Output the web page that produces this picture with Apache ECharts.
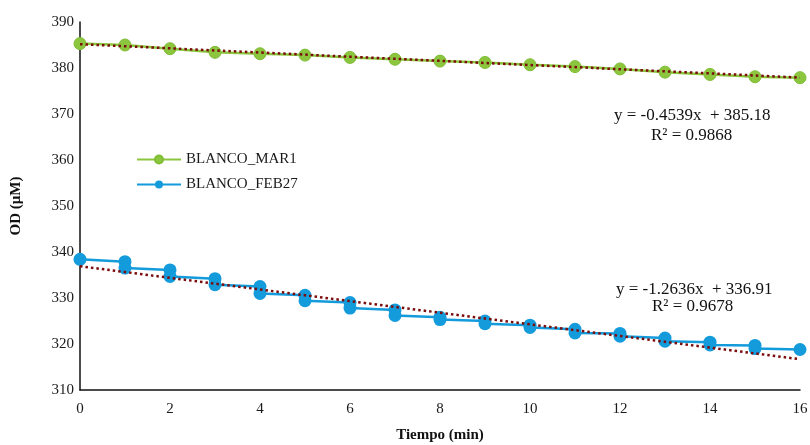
<!DOCTYPE html>
<html>
<head>
<meta charset="utf-8">
<script src="https://cdn.jsdelivr.net/npm/echarts@6/dist/echarts.min.js"></script>
<style>html,body{margin:0;padding:0;background:#fff}#c{width:810px;height:445px}</style>
</head>
<body>
<div id="c"></div>
<script>
// Data
const marX = [0,1,2,3,4,5,6,7,8,9,10,11,12,13,14,15,16];
const marY = [385.3,385.0,384.2,383.4,383.1,382.8,382.3,381.9,381.5,381.2,380.7,380.3,379.8,379.1,378.6,378.1,377.9];
const febX = [0,1,1,2,2,3,3,4,4,5,5,6,6,7,7,8,8,9,9,10,10,11,11,12,12,13,13,14,14,15,15,16];
const febY = [338.4,337.9,336.5,336.1,334.7,334.2,332.9,332.5,331.0,330.6,329.4,329.0,327.8,327.4,326.2,325.8,325.3,325.0,324.4,324.1,323.6,323.2,322.4,322.3,321.7,321.3,320.6,320.4,319.8,319.7,319.0,318.8];
const trendX = [0,16];
const marTrendY = [385.18,377.92];
const febTrendY = [336.91,316.69];
const xTicks = [0,2,4,6,8,10,12,14,16];
const yTicks = [310,320,330,340,350,360,370,380,390];
const seriesNames = ['BLANCO_MAR1','BLANCO_FEB27'];
const eqMar = ['y = -0.4539x  + 385.18','R² = 0.9868'];
const eqFeb = ['y = -1.2636x  + 336.91','R² = 0.9678'];

const zip = (xs, ys) => xs.map((x,i)=>[x, ys[i]]);
const serif = '"Liberation Serif","DejaVu Serif",serif';
const green = '#8cc63f';
const blue = '#139bdb';
const trendColor = '#7a0c0c';

const chart = echarts.init(document.getElementById('c'), null, {renderer:'canvas'});
chart.setOption({
  animation:false,
  backgroundColor:'#fff',
  grid:{left:80,right:10,top:22,bottom:55,containLabel:false,outerBoundsMode:'none'},
  xAxis:{type:'value',min:xTicks[0],max:xTicks[xTicks.length-1],interval:2,
    name:'Tiempo (min)',nameLocation:'middle',nameGap:38,
    nameTextStyle:{fontFamily:serif,fontWeight:'bold',fontSize:15,color:'#111'},
    axisLine:{show:true,onZero:false,lineStyle:{color:'#111',width:1.5}},
    axisTick:{show:false},splitLine:{show:false},
    axisLabel:{fontFamily:serif,fontSize:15,color:'#1a1a1a',margin:12}},
  yAxis:{type:'value',min:yTicks[0],max:yTicks[yTicks.length-1],interval:10,
    name:'OD (µM)',nameLocation:'middle',nameGap:56,nameRotate:90,
    nameTextStyle:{fontFamily:serif,fontWeight:'bold',fontSize:15,color:'#111'},
    axisLine:{show:true,lineStyle:{color:'#111',width:1.5}},
    axisTick:{show:false},splitLine:{show:false},
    axisLabel:{fontFamily:serif,fontSize:15,color:'#1a1a1a',margin:6}},
  legend:{orient:'vertical',left:131,top:147,itemGap:10,itemWidth:44,itemHeight:10,
    data:seriesNames,
    textStyle:{fontFamily:serif,fontSize:15,color:'#1a1a1a'}},
  series:[
    {name:seriesNames[0],type:'line',data:zip(marX,marY),symbol:'circle',symbolSize:12,
      lineStyle:{color:green,width:2.5},itemStyle:{color:green,borderColor:'#7fbd35',borderWidth:1},z:2},
    {name:seriesNames[1],type:'line',data:zip(febX,febY),symbol:'circle',symbolSize:13,
      lineStyle:{color:blue,width:2.5},itemStyle:{color:blue},z:2},
    {name:'trendMar',type:'line',data:zip(trendX,marTrendY),symbol:'none',silent:true,
      lineStyle:{color:trendColor,width:2.5,type:[2.5,3]},z:5},
    {name:'trendFeb',type:'line',data:zip(trendX,febTrendY),symbol:'none',silent:true,
      lineStyle:{color:trendColor,width:2.5,type:[2.5,3]},z:5}
  ],
  graphic:[
    {type:'text',left:614,top:107,style:{text:eqMar[0],font:'17px '+serif,fill:'#111'}},
    {type:'text',left:651,top:127,style:{text:eqMar[1],font:'17px '+serif,fill:'#111'}},
    {type:'text',left:616,top:281,style:{text:eqFeb[0],font:'17px '+serif,fill:'#111'}},
    {type:'text',left:652,top:298,style:{text:eqFeb[1],font:'17px '+serif,fill:'#111'}}
  ]
});
</script>
</body>
</html>
